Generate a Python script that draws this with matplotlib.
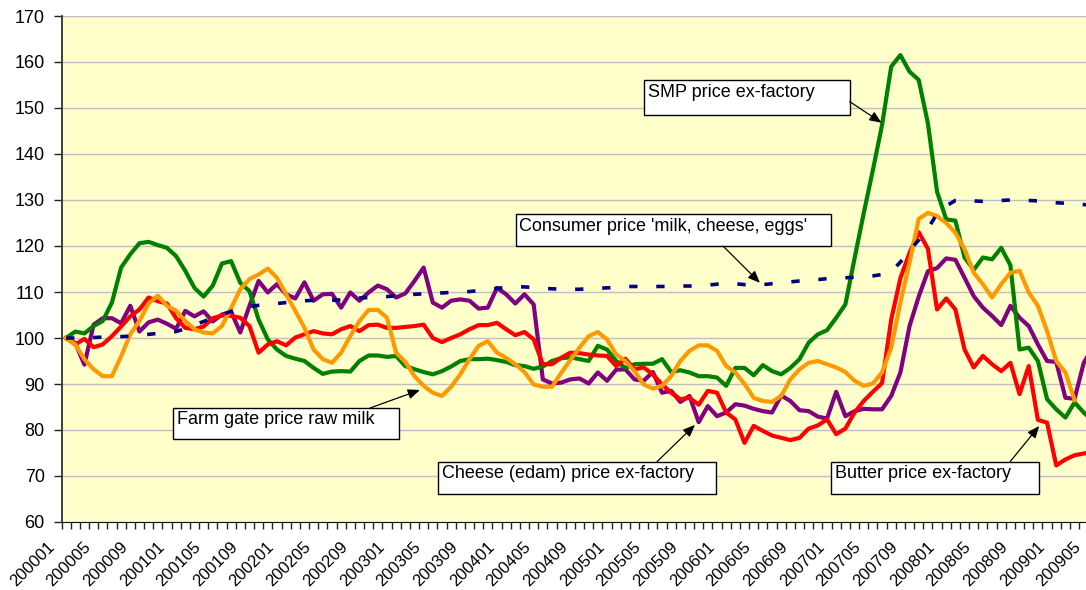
import matplotlib
matplotlib.use('Agg')
import matplotlib.pyplot as plt
import matplotlib.transforms as mtransforms
from matplotlib.patches import Rectangle

plt.rcParams['font.family'] = ['Liberation Sans', 'DejaVu Sans']

# months 200001 .. 200905
months = [f'{y}{m:02d}' for y in range(2000, 2010) for m in range(1, 13)][:113]

smp = [100, 101.4, 101, 102.6, 103.7, 107.7, 115.3, 118.2, 120.6, 120.9, 120.2, 119.6,
       117.8, 114.6, 110.9, 109, 111.4, 116.2, 116.7, 112, 110.2, 104, 99.7, 97.5,
       96.1, 95.5, 95, 93.5, 92.2, 92.7, 92.8, 92.7, 95, 96.2, 96.2, 95.9,
       96.1, 93.9, 93.2, 92.6, 92.1, 92.8, 93.8, 95, 95.4, 95.4, 95.5, 95.2,
       94.8, 94.1, 93.9, 93.3, 93.8, 95, 95.6, 95.8, 95.4, 95, 98.3, 97.5,
       95, 93.5, 94.3, 94.4, 94.4, 95.4, 92.6, 93, 92.5, 91.7, 91.7, 91.4,
       89.6, 93.5, 93.5, 91.9, 94.1, 92.8, 92.1, 93.5, 95.4, 99, 100.8, 101.7,
       104.4, 107.3, 117.3, 127.1, 136.5, 146.3, 159, 161.5, 157.9, 156.1, 146.7, 131.8,
       125.8, 125.5, 117.5, 114.8, 117.5, 117.1, 119.6, 115.8, 97.5, 97.9, 95, 86.7,
       84.5, 82.7, 86, 83.8, 82]

farm_gate = [100, 98.6, 95.4, 93.2, 91.7, 91.7, 96, 100.8, 103.7, 107.5, 109.2, 107,
             105.9, 103.7, 101.9, 101.2, 101, 102.6, 106.5, 110.6, 112.8, 113.8, 115.1, 113.1,
             109.5, 105.9, 102.2, 97.5, 95.4, 94.6, 96.8, 100.4, 103.7, 106.1, 106.1, 104.4,
             96.8, 94.8, 91.7, 89.6, 88.1, 87.4, 89.4, 92.1, 95.4, 98.3, 99.3, 96.8,
             95.7, 94.3, 92.6, 89.9, 89.4, 89.4, 92.4, 95.2, 97.9, 100.4, 101.3, 99.7,
             96.4, 95, 92.8, 89.9, 89, 89.6, 91.7, 95, 97.2, 98.4, 98.4, 97.2,
             93.9, 92.5, 90, 87, 86.3, 86.1, 87.4, 91, 93.2, 94.6, 95, 94.3,
             93.6, 92.6, 90.7, 89.6, 90.1, 92.5, 97.9, 107.7, 116.4, 125.9, 127.2, 126.5,
             125, 122.9, 119.3, 114.2, 111.7, 108.8, 111.7, 114.2, 114.6, 109.9, 107, 101.5,
             95, 92.5, 86.5, None, None]

butter = [100, 98.6, 99.8, 98, 98.6, 100.4, 102.5, 104.7, 106.2, 108.8, 108, 107.5,
          104.3, 102.2, 101.9, 102.5, 104.3, 104.9, 104.8, 104.4, 102.6, 96.8, 98.6, 99.3,
          98.4, 100.1, 100.8, 101.5, 101, 100.8, 101.9, 102.6, 101.5, 102.8, 102.9, 102.2,
          102.2, 102.4, 102.6, 102.9, 100, 99.1, 100, 100.8, 101.9, 102.8, 102.8, 103.3,
          101.9, 100.6, 101.3, 99.7, 94.3, 94.3, 95.7, 96.8, 96.7, 96.4, 96.2, 96.1,
          93.9, 95.5, 93.2, 93.6, 92.1, 89.9, 88.1, 86.7, 87, 85.5, 88.5, 88.1,
          83.8, 82.3, 77.2, 80.9, 79.8, 78.8, 78.3, 77.8, 78.3, 80.3, 81, 82.3,
          79.1, 80.3, 83.8, 86.3, 88.3, 90.2, 104, 113, 118.5, 123, 119.4, 106.2,
          108.6, 106.2, 97.5, 93.6, 96.1, 94.3, 92.8, 94.6, 87.8, 93.9, 82.2, 81.6,
          72.3, 73.6, 74.5, 74.9, 75.2]

cheese = [100, 98.9, 94.2, 102.9, 104.3, 104.3, 103.2, 107, 101.4, 103.4, 104, 103.1,
          102, 105.9, 104.7, 105.8, 103.6, 105.1, 105.7, 101.2, 107, 112.4, 109.9, 111.7,
          109.5, 108.6, 112.1, 108.1, 109.5, 109.6, 106.6, 109.9, 108.1, 109.9, 111.4, 110.6,
          108.8, 109.7, 112.4, 115.3, 107.7, 106.6, 108.1, 108.4, 108.1, 106.4, 106.6, 110.9,
          109.5, 107.5, 109.5, 107.3, 91, 90.1, 90.3, 91, 91.2, 90.1, 92.5, 90.7,
          93.1, 93.2, 91, 90.7, 92.6, 88.1, 88.5, 86.1, 87.4, 81.7, 85.2, 83,
          83.8, 85.6, 85.3, 84.6, 84.1, 83.8, 87.5, 86.3, 84.3, 84.1, 82.9, 82.5,
          88.3, 83, 84.1, 84.6, 84.5, 84.5, 87.4, 92.5, 102.6, 109, 114.5, 115.2,
          117.3, 117, 113.1, 109.1, 106.6, 104.8, 102.8, 107, 104.4, 102.6, 98.6, 95,
          94.8, 87, 86.8, 94.6, 98]

consumer = [100, 100, 100, 100.1, 100.2, 100.2, 100.3, 100.4, 100.5, 100.8, 101, 101.2,
            101.4, 102, 102.8, 103.6, 104.3, 105, 105.8, 106.3, 106.8, 107.1, 107.3, 107.5,
            107.7, 107.9, 108.1, 108.2, 108.2, 108.2, 108.3, 108.5, 108.7, 108.8, 108.9, 109,
            109.2, 109.3, 109.5, 109.6, 109.7, 109.8, 109.9, 110, 110.1, 110.3, 110.5, 110.8,
            111, 111.2, 111.1, 111, 110.8, 110.7, 110.6, 110.6, 110.6, 110.7, 110.8, 110.9,
            111, 111.2, 111.2, 111.2, 111.2, 111.2, 111.2, 111.3, 111.3, 111.4, 111.5, 111.7,
            111.9, 111.8, 111.6, 111.5, 111.6, 111.8, 112, 112.2, 112.4, 112.6, 112.7, 112.9,
            113, 113.1, 113.2, 113.3, 113.5, 113.8, 114.4, 116.5, 119, 121.3, 123.8, 127,
            128.7, 129.9, 130, 129.8, 129.7, 129.8, 129.9, 130, 130, 129.9, 129.8, 129.6,
            129.4, 129.3, 129.2, 129, 128.9]

fig = plt.figure(figsize=(10.86, 5.90), dpi=100)
ax = fig.add_axes([61.5 / 1086, 68 / 590, 1036 / 1086, 506 / 590])
ax.set_facecolor('#FFFFCC')

x = list(range(len(months)))
ax.plot(x, cheese, color='#800080', lw=3, zorder=3, solid_joinstyle='round')
ax.plot(x, smp, color='#008000', lw=3, zorder=3, solid_joinstyle='round')
ax.plot(x, butter, color='#FF0000', lw=3, zorder=3, solid_joinstyle='round')
ax.plot(x, farm_gate, color='#FF9900', lw=3, zorder=3, solid_joinstyle='round')
ax.plot(x, consumer, color='#000080', lw=2.6, linestyle=(0, (2.3, 5.2)),
        dash_capstyle='butt', zorder=4)

ax.set_xlim(-0.5, len(months) - 0.5)
ax.set_ylim(60, 170)
ax.set_yticks(range(60, 171, 10))
ax.yaxis.grid(True, color='#BFBFBF', lw=1)
ax.set_axisbelow(True)

# tick marks between months, labels every 4th month
ax.set_xticks([i - 0.5 for i in range(len(months) + 1)])
ax.set_xticklabels([])
ax.set_xticks(x[::4], months[::4], minor=True)
ax.tick_params(axis='x', which='major', length=5, width=1, color='#222222')
ax.tick_params(axis='x', which='minor', length=0, labelsize=12, pad=2)
shift = mtransforms.ScaledTranslation(-0.09, -0.14, fig.dpi_scale_trans)
for tick in ax.xaxis.get_minor_ticks():
    lab = tick.label1
    lab.set_rotation(45)
    lab.set_ha('right')
    lab.set_va('top')
    lab.set_transform(lab.get_transform() + shift)
ax.tick_params(axis='y', length=6, width=1, color='#222222', labelsize=13, pad=6)

for s in ['top', 'right']:
    ax.spines[s].set_visible(False)
ax.spines['left'].set_color('#333333')
ax.spines['left'].set_linewidth(1.3)
ax.spines['bottom'].set_color('#111111')


def note(text, box, tx, ty, start, end):
    x0, x1, y0, y1 = box
    ax.add_patch(Rectangle((x0, y0), x1 - x0, y1 - y0, facecolor='white',
                           edgecolor='black', lw=1, zorder=7))
    ax.text(tx, ty, text, ha='left', va='baseline', fontsize=13, zorder=8)
    ax.annotate('', xy=end, xytext=start, zorder=8,
                arrowprops=dict(arrowstyle='-|>,head_length=0.6,head_width=0.25',
                                color='black', lw=0.9, mutation_scale=12,
                                shrinkA=0, shrinkB=0))


note('SMP price ex-factory', (63.0, 85.5, 148.5, 156.1), 63.5, 152.4,
     (85.46, 151.4), (88.95, 146.8))
note("Consumer price 'milk, cheese, eggs'", (49.07, 83.42, 120.0, 126.96), 49.4, 123.3,
     (71.68, 119.95), (75.68, 112.0))
note('Farm gate price raw milk', (11.67, 36.3, 78.04, 84.78), 12.07, 81.3,
     (33.15, 84.78), (38.6, 88.7))
note('Cheese (edam) price ex-factory', (40.57, 70.88, 66.09, 73.04), 41.0, 69.6,
     (64.42, 73.04), (68.59, 81.1))
note('Butter price ex-factory', (83.42, 106.11, 66.09, 73.04), 83.9, 69.6,
     (102.94, 73.04), (106.14, 80.87))

fig.savefig('out.png', dpi=100)
